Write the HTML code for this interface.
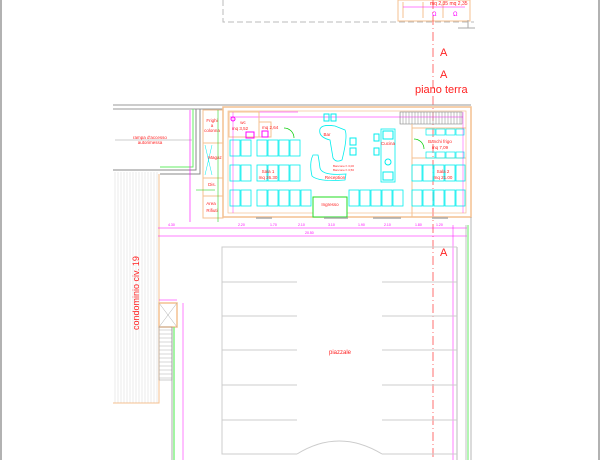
<!DOCTYPE html>
<html><head><meta charset="utf-8"><style>
html,body{margin:0;padding:0;background:#fff;width:600px;height:460px;overflow:hidden}
svg{display:block}
text{font-family:"Liberation Sans",sans-serif;fill:#f22}
</style></head><body>
<svg width="600" height="460" viewBox="0 0 600 460" xmlns="http://www.w3.org/2000/svg">
<defs>
<pattern id="vh" width="3" height="4" patternUnits="userSpaceOnUse"><line x1="1" y1="0" x2="1" y2="4" stroke="#ddd" stroke-width="0.6"/></pattern>
<pattern id="sh" width="4" height="4" patternUnits="userSpaceOnUse"><line x1="0" y1="2" x2="4" y2="2" stroke="#bbb" stroke-width="0.6"/></pattern>
<pattern id="sv" width="3" height="4" patternUnits="userSpaceOnUse"><line x1="1" y1="0" x2="1" y2="4" stroke="#999" stroke-width="0.6"/></pattern>
</defs>
<!-- frame -->
<line x1="1" y1="0" x2="1" y2="460" stroke="#999" stroke-width="1.5"/>
<line x1="599" y1="0" x2="599" y2="460" stroke="#999" stroke-width="1.5"/>
<!-- top dashed building -->
<polyline points="223,0 223,22 474,22" fill="none" stroke="#bbb" stroke-dasharray="6,3" stroke-width="1"/>
<rect x="398" y="0" width="72" height="21" fill="none" stroke="#f4c090"/>
<line x1="403" y1="2" x2="403" y2="18" stroke="#f4c090"/>
<line x1="423" y1="2" x2="423" y2="18" stroke="#f4c090"/>
<line x1="443" y1="2" x2="443" y2="18" stroke="#f4c090"/>
<line x1="403" y1="7" x2="465" y2="7" stroke="#f0f" stroke-width="0.5"/>
<text x="430" y="5" font-size="5">mq 2,35 mq 2,35</text>
<text x="432" y="16" font-size="6" fill="#f0f" style="fill:#f0f">Ω</text>
<text x="453" y="16" font-size="6" style="fill:#f0f">Ω</text>
<line x1="468" y1="20" x2="468" y2="28" stroke="#aaa"/>
<line x1="458" y1="28" x2="475" y2="28" stroke="#aaa"/>
<!-- section line -->
<line x1="433" y1="0" x2="433" y2="460" stroke="#f33" stroke-width="0.7" stroke-dasharray="9,3,1,3"/>
<text x="440" y="56" font-size="11">A</text>
<text x="440" y="78" font-size="11">A</text>
<text x="415" y="93" font-size="11">piano terra</text>
<!-- top gray lines -->
<line x1="113" y1="105" x2="471" y2="105" stroke="#999" stroke-width="1"/>
<line x1="113" y1="109" x2="223" y2="109" stroke="#999" stroke-width="1"/>
<!-- ramp -->
<polyline points="196,109 196,170 113,170" fill="none" stroke="#888"/>
<polyline points="200,109 200,174 160,174" fill="none" stroke="#888"/>
<polyline points="193,109 193,167 160,167" fill="none" stroke="#6e6" stroke-width="1"/>
<line x1="115" y1="140" x2="192" y2="140" stroke="#999" stroke-width="0.6"/>
<text x="150" y="139" font-size="4.5" text-anchor="middle">rampa d'accesso</text>
<text x="150" y="144" font-size="4.5" text-anchor="middle">autorimessa</text>
<line x1="190" y1="110" x2="190" y2="222" stroke="#f0f" stroke-width="0.6"/>
<!-- condominio hatch -->
<rect x="113" y="172" width="46" height="231" fill="url(#vh)"/>
<polyline points="113,403 159,403 159,174" fill="none" stroke="#f4c090" stroke-width="1"/>
<text transform="translate(139,330) rotate(-90)" font-size="9">condominio civ. 19</text>
<!-- left service column -->
<rect x="203" y="110" width="20" height="108" fill="none" stroke="#f4c090" stroke-width="1"/>
<line x1="203" y1="143" x2="223" y2="143" stroke="#f4c090"/>
<line x1="203" y1="178" x2="223" y2="178" stroke="#f4c090"/>
<line x1="203" y1="196" x2="223" y2="196" stroke="#f4c090"/>
<line x1="205" y1="145" x2="212" y2="175" stroke="#0ee" stroke-width="0.5"/>
<line x1="212" y1="145" x2="205" y2="175" stroke="#0ee" stroke-width="0.5"/>
<text x="212" y="122" font-size="4.5" text-anchor="middle">Frighi</text>
<text x="212" y="127" font-size="4.5" text-anchor="middle">a</text>
<text x="212" y="132" font-size="4.5" text-anchor="middle">colonna</text>
<text x="215" y="159" font-size="4.5" text-anchor="middle">Magaz</text>
<text x="212" y="186" font-size="4.5" text-anchor="middle">Dis.</text>
<text x="211" y="205" font-size="4.5" text-anchor="middle">Area</text>
<text x="212" y="212" font-size="4.5" text-anchor="middle">Rifiuti</text>
<line x1="218" y1="110" x2="218" y2="222" stroke="#0c0" stroke-width="0.5"/>
<line x1="196" y1="190" x2="215" y2="190" stroke="#0c0" stroke-width="0.5"/>
<!-- main building -->
<rect x="223" y="107" width="248" height="110" fill="none" stroke="#f4c090" stroke-width="1.5"/>
<rect x="228" y="111" width="238" height="102" fill="none" stroke="#f4c090" stroke-width="0.7"/>
<line x1="230" y1="117" x2="463" y2="117" stroke="#f0f" stroke-width="0.5"/>
<line x1="248" y1="112" x2="298" y2="112" stroke="#f0f" stroke-width="0.5"/>
<!-- wc -->
<rect x="229" y="112" width="30" height="25" fill="none" stroke="#f4c090"/>
<rect x="259" y="122" width="12" height="15" fill="none" stroke="#f4c090"/>
<text x="243" y="124" font-size="4.5" text-anchor="middle">wc</text>
<text x="240" y="130" font-size="4.5" text-anchor="middle">mq 3,52</text>
<text x="262" y="129" font-size="4.5">mq 2,64</text>
<rect x="246" y="132" width="8" height="6" fill="none" stroke="#f0f"/>
<rect x="262" y="131" width="6" height="6" fill="none" stroke="#f0f"/>
<path d="M284,128 A10,10 0 0 1 294,138" fill="none" stroke="#0c0" stroke-width="0.7"/>
<circle cx="233" cy="119" r="2" fill="none" stroke="#f0f"/>
<!-- bar -->
<path d="M320,129 Q322,124 335,126 L345,130 Q348,136 342,160 Q336,163 333,158 L330,140 Q318,137 320,129Z" fill="none" stroke="#0ee" stroke-width="0.8"/>
<path d="M313,155 Q309,163 312,176 Q318,182 345,180 L346,174 Q322,176 320,168 Q319,160 318,155Z" fill="none" stroke="#0ee" stroke-width="0.8"/>
<rect x="324" y="114" width="5" height="7" fill="none" stroke="#0ee"/>
<rect x="331" y="114" width="5" height="7" fill="none" stroke="#0ee"/>
<rect x="350" y="138" width="6" height="7" fill="none" stroke="#0ee"/>
<rect x="350" y="148" width="6" height="7" fill="none" stroke="#0ee"/>
<text x="327" y="136" font-size="4.5" text-anchor="middle">Bar</text>
<text x="335" y="179" font-size="4.5" text-anchor="middle">Reception</text>
<text x="333" y="167" font-size="3" style="fill:#f22">Bancone h 3,00</text>
<text x="333" y="171" font-size="3">Bancone h 3,50</text>
<!-- cucina -->
<rect x="381" y="129" width="14" height="53" fill="none" stroke="#0ee" stroke-width="0.8"/>
<rect x="383" y="131" width="10" height="8" fill="none" stroke="#0ee"/>
<rect x="383" y="172" width="10" height="8" fill="none" stroke="#0ee"/>
<circle cx="388" cy="162" r="3" fill="none" stroke="#0ee"/>
<rect x="374" y="134" width="5" height="7" fill="none" stroke="#0ee"/>
<rect x="374" y="148" width="5" height="7" fill="none" stroke="#0ee"/>
<text x="388" y="145" font-size="4.5" text-anchor="middle">Cucina</text>
<!-- stair top right -->
<rect x="400" y="112" width="62" height="12" fill="url(#sv)" stroke="#888" stroke-width="0.6"/>
<line x1="412" y1="124" x2="412" y2="217" stroke="#f4c090"/>
<line x1="412" y1="128" x2="466" y2="128" stroke="#f4c090"/>
<line x1="412" y1="158" x2="466" y2="158" stroke="#f4c090"/>
<text x="440" y="143" font-size="4.5" text-anchor="middle">Banchi frigo</text>
<text x="440" y="149" font-size="4.5" text-anchor="middle">mq 7,09</text>
<g fill="none" stroke="#0ee" stroke-width="0.7">
<rect x="426" y="129" width="9" height="6"/><rect x="436" y="129" width="9" height="6"/><rect x="446" y="129" width="9" height="6"/><rect x="456" y="129" width="8" height="6"/>
<rect x="426" y="152" width="9" height="6"/><rect x="436" y="152" width="9" height="6"/><rect x="446" y="152" width="9" height="6"/><rect x="456" y="152" width="8" height="6"/>
</g>
<path d="M414,139 A10,10 0 0 1 424,149" fill="none" stroke="#0c0" stroke-width="0.7"/>
<!-- tables -->
<g fill="none" stroke="#0ee" stroke-width="0.8">
<rect x="230" y="140" width="10" height="16"/><rect x="241" y="140" width="10" height="16"/>
<rect x="257" y="140" width="10" height="16"/><rect x="268" y="140" width="10" height="16"/><rect x="279" y="140" width="10" height="16"/><rect x="290" y="140" width="10" height="16"/>
<rect x="230" y="165" width="10" height="16"/><rect x="241" y="165" width="10" height="16"/>
<rect x="257" y="165" width="10" height="16"/><rect x="268" y="165" width="10" height="16"/><rect x="279" y="165" width="10" height="16"/><rect x="290" y="165" width="10" height="16"/>
<rect x="230" y="190" width="10" height="16"/><rect x="241" y="190" width="10" height="16"/>
<rect x="257" y="190" width="10" height="16"/><rect x="268" y="190" width="10" height="16"/><rect x="279" y="190" width="10" height="16"/><rect x="290" y="190" width="10" height="16"/><rect x="301" y="190" width="10" height="16"/>
<rect x="349" y="190" width="10" height="16"/><rect x="360" y="190" width="10" height="16"/><rect x="371" y="190" width="10" height="16"/><rect x="382" y="190" width="10" height="16"/><rect x="393" y="190" width="10" height="16"/>
<rect x="412" y="165" width="10" height="16"/><rect x="423" y="165" width="10" height="16"/><rect x="434" y="165" width="10" height="16"/><rect x="445" y="165" width="10" height="16"/><rect x="456" y="165" width="9" height="16"/>
<rect x="412" y="190" width="10" height="16"/><rect x="423" y="190" width="10" height="16"/><rect x="434" y="190" width="10" height="16"/><rect x="445" y="190" width="10" height="16"/><rect x="456" y="190" width="9" height="16"/>
</g>
<text x="268" y="173" font-size="4.5" text-anchor="middle">Sala 1</text>
<text x="268" y="179" font-size="4.5" text-anchor="middle">mq 26.30</text>
<text x="443" y="173" font-size="4.5" text-anchor="middle">Sala 2</text>
<text x="443" y="179" font-size="4.5" text-anchor="middle">mq 21.00</text>
<rect x="313" y="197" width="34" height="20" fill="#fff" stroke="#2d2" stroke-width="1"/>
<text x="330" y="206" font-size="4.5" text-anchor="middle">Ingresso</text>
<line x1="233" y1="112" x2="233" y2="213" stroke="#f0f" stroke-width="0.4"/>
<line x1="463" y1="112" x2="463" y2="213" stroke="#f0f" stroke-width="0.4"/>
<g stroke="#aaa" stroke-width="1.5"><line x1="256" y1="218" x2="272" y2="218"/><line x1="324" y1="218" x2="348" y2="218"/><line x1="373" y1="218" x2="401" y2="218"/><line x1="432" y1="218" x2="448" y2="218"/></g>
<!-- dimension lines -->
<line x1="158" y1="228" x2="467" y2="228" stroke="#f0f" stroke-width="0.6"/>
<line x1="158" y1="236" x2="467" y2="236" stroke="#f0f" stroke-width="0.6"/>
<g font-size="3.5" style="fill:#f0f">
<text x="168" y="226" style="fill:#f0f">4.30</text><text x="238" y="226" style="fill:#f0f">2.20</text><text x="270" y="226" style="fill:#f0f">1.70</text><text x="298" y="226" style="fill:#f0f">2.10</text><text x="328" y="226" style="fill:#f0f">3.10</text><text x="358" y="226" style="fill:#f0f">1.90</text><text x="384" y="226" style="fill:#f0f">2.10</text><text x="415" y="226" style="fill:#f0f">1.80</text><text x="436" y="226" style="fill:#f0f">1.20</text>
<text x="305" y="234" style="fill:#f0f">20.50</text>
</g>
<!-- right lines -->
<line x1="453" y1="225" x2="453" y2="460" stroke="#f0f" stroke-width="0.5"/>
<line x1="457" y1="247" x2="457" y2="460" stroke="#bbb" stroke-width="1"/>
<line x1="466" y1="225" x2="466" y2="460" stroke="#aaa" stroke-width="0.7"/>
<line x1="468" y1="225" x2="468" y2="460" stroke="#6e6" stroke-width="1"/>
<line x1="471" y1="217" x2="471" y2="460" stroke="#999" stroke-width="0.7"/>
<text x="440" y="256" font-size="11">A</text>
<!-- piazzale -->
<polyline points="297,454 222,454 222,247 457,247" fill="none" stroke="#ccc" stroke-width="1"/>
<line x1="382" y1="454" x2="457" y2="454" stroke="#ccc" stroke-width="1"/>
<g stroke="#ccc" stroke-width="1">
<line x1="222" y1="282" x2="297" y2="282"/><line x1="382" y1="282" x2="457" y2="282"/>
<line x1="222" y1="316" x2="297" y2="316"/><line x1="382" y1="316" x2="457" y2="316"/>
<line x1="222" y1="350" x2="297" y2="350"/><line x1="382" y1="350" x2="457" y2="350"/>
<line x1="222" y1="385" x2="297" y2="385"/><line x1="382" y1="385" x2="457" y2="385"/>
<line x1="222" y1="420" x2="297" y2="420"/><line x1="382" y1="420" x2="457" y2="420"/>
</g>
<path d="M297,454 Q339,428 382,454" fill="none" stroke="#ccc" stroke-width="1"/>
<text x="340" y="354" font-size="6" text-anchor="middle">piazzale</text>
<!-- stairs left -->
<rect x="159" y="303" width="18" height="24" fill="none" stroke="#f4c090" stroke-width="1.5"/>
<line x1="159" y1="303" x2="177" y2="327" stroke="#aaa" stroke-width="0.5"/>
<line x1="177" y1="303" x2="159" y2="327" stroke="#aaa" stroke-width="0.5"/>
<rect x="159" y="327" width="13" height="53" fill="url(#sh)" stroke="#999" stroke-width="0.5"/>
<line x1="172" y1="327" x2="172" y2="460" stroke="#888" stroke-width="0.7"/>
<line x1="174" y1="327" x2="174" y2="460" stroke="#6e6" stroke-width="1.2"/>
<line x1="183" y1="303" x2="183" y2="460" stroke="#f0f" stroke-width="0.5"/>
<line x1="159" y1="300" x2="177" y2="300" stroke="#f0f" stroke-width="0.5"/>
</svg>
</body></html>
